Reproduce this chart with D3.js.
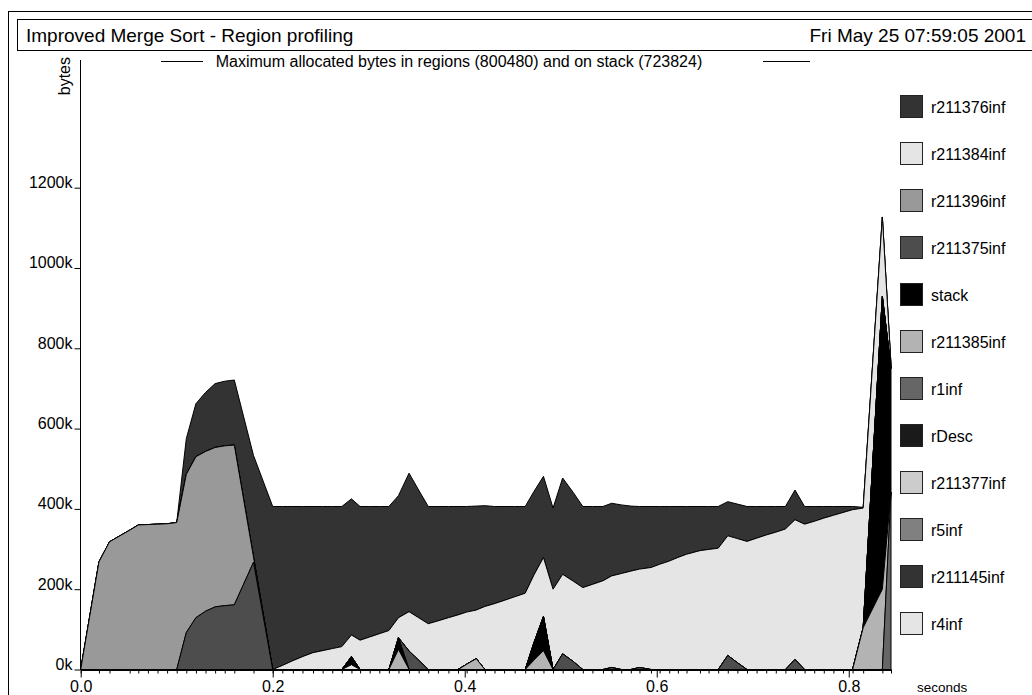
<!DOCTYPE html>
<html>
<head>
<meta charset="utf-8">
<script src="https://cdn.jsdelivr.net/npm/d3@7"></script>
<style>
  html, body { margin: 0; padding: 0; background: #fff; }
  svg { display: block; font-family: "Liberation Sans", Arial, Helvetica, sans-serif; }
</style>
</head>
<body>
<svg id="chart" width="1032" height="695"></svg>
<script>
// ---------------- DATA ----------------
const title = "Improved Merge Sort - Region profiling";
const dateText = "Fri May 25 07:59:05 2001";
const subtitle = "Maximum allocated bytes in regions (800480) and on stack (723824)";

// sample times (seconds)
const times = [
  0.000, 0.019, 0.030, 0.051, 0.060, 0.070, 0.080, 0.090, 0.100, 0.110,
  0.120, 0.130, 0.140, 0.150, 0.160, 0.180, 0.200, 0.210, 0.221, 0.231,
  0.242, 0.252, 0.262, 0.272, 0.282, 0.291, 0.301, 0.311, 0.321, 0.331,
  0.342, 0.352, 0.362, 0.372, 0.383, 0.393, 0.402, 0.412, 0.421, 0.431,
  0.441, 0.452, 0.463, 0.472, 0.482, 0.492, 0.502, 0.513, 0.523, 0.533,
  0.544, 0.553, 0.563, 0.573, 0.582, 0.594, 0.603, 0.613, 0.622, 0.631,
  0.645, 0.654, 0.664, 0.674, 0.684, 0.694, 0.704, 0.714, 0.724, 0.734,
  0.744, 0.754, 0.764, 0.774, 0.784, 0.794, 0.804, 0.815, 0.835, 0.844
];

// values in kilobytes, one per sample time
const r211376inf = [
  0, 0, 0, 0, 0, 0, 0, 0, 0, 89,
  132, 147, 159, 161, 162, 253, 406, 396, 384, 374,
  364, 359, 354, 349, 339, 333, 325, 317, 309, 304,
  345, 318, 292, 285, 277, 270, 263, 259, 251, 242,
  234, 225, 216, 208, 202, 202, 240, 221, 202, 194,
  185, 181, 171, 162, 156, 152, 144, 136, 127, 119,
  110, 107, 104, 85, 86, 87, 79, 71, 64, 56,
  74, 44, 37, 29, 22, 15, 8, 2, 0, 0
];
const r211384inf = [
  0, 0, 0, 0, 0, 0, 0, 0, 0, 0,
  0, 0, 0, 0, 0, 0, 0, 10, 22, 32,
  42, 47, 52, 57, 54, 73, 81, 89, 97, 50,
  98, 106, 114, 121, 129, 136, 130, 121, 157, 164,
  172, 181, 190, 169, 147, 200, 198, 200, 204, 212,
  221, 228, 239, 245, 245, 254, 262, 270, 279, 287,
  296, 299, 302, 298, 309, 319, 327, 335, 342, 350,
  348, 362, 369, 377, 384, 391, 398, 298, 198, 8
];
const r211396inf = [
  0, 268, 318, 347, 360, 361, 362, 363, 366, 394,
  401, 398, 397, 398, 398, 13, 0, 0, 0, 0,
  0, 0, 0, 0, 0, 0, 0, 0, 0, 0,
  0, 0, 0, 0, 0, 0, 0, 0, 0, 0,
  0, 0, 0, 0, 0, 0, 0, 0, 0, 0,
  0, 0, 0, 0, 0, 0, 0, 0, 0, 0,
  0, 0, 0, 0, 0, 0, 0, 0, 0, 0,
  0, 0, 0, 0, 0, 0, 0, 0, 0, 0
];
const r211375inf = [
  0, 0, 0, 0, 0, 0, 0, 0, 0, 92,
  129, 145, 156, 159, 161, 267, 0, 0, 0, 0,
  0, 0, 0, 0, 0, 0, 0, 0, 0, 0,
  46, 23, 0, 0, 0, 0, 0, 0, 0, 0,
  0, 0, 0, 0, 0, 0, 39, 20, 0, 0,
  0, 5, 0, 0, 5, 0, 0, 0, 0, 0,
  0, 0, 0, 35, 17, 0, 0, 0, 0, 0,
  25, 0, 0, 0, 0, 0, 0, 0, 0, 0
];
const stack = [
  0, 0, 0, 0, 0, 0, 0, 0, 0, 0,
  0, 0, 0, 0, 0, 0, 0, 0, 0, 0,
  0, 0, 0, 0, 20, 0, 0, 0, 0, 29,
  0, 0, 0, 0, 0, 0, 0, 0, 0, 0,
  0, 0, 0, 43, 85, 0, 0, 0, 0, 0,
  0, 0, 0, 0, 0, 0, 0, 0, 0, 0,
  0, 0, 0, 0, 0, 0, 0, 0, 0, 0,
  0, 0, 0, 0, 0, 0, 0, 0, 729, 308
];
const r211385inf = [
  0, 0, 0, 0, 0, 0, 0, 0, 0, 0,
  0, 0, 0, 0, 0, 0, 0, 0, 0, 0,
  0, 0, 0, 0, 0, 0, 0, 0, 0, 50,
  0, 0, 0, 0, 0, 0, 13, 27, 0, 0,
  0, 0, 0, 23, 47, 0, 0, 0, 0, 0,
  0, 0, 0, 0, 0, 0, 0, 0, 0, 0,
  0, 0, 0, 0, 0, 0, 0, 0, 0, 0,
  0, 0, 0, 0, 0, 0, 0, 104, 200, 0
];
const r1inf = [
  0, 0, 0, 0, 0, 0, 0, 0, 0, 0,
  0, 0, 0, 0, 0, 0, 0, 0, 0, 0,
  0, 0, 0, 0, 0, 0, 0, 0, 0, 0,
  0, 0, 0, 0, 0, 0, 0, 0, 0, 0,
  0, 0, 0, 0, 0, 0, 0, 0, 0, 0,
  0, 0, 0, 0, 0, 0, 0, 0, 0, 0,
  0, 0, 0, 0, 0, 0, 0, 0, 0, 0,
  0, 0, 0, 0, 0, 0, 0, 0, 0, 442
];
const rDesc = [
  0, 0, 0, 0, 0, 0, 0, 0, 0, 0,
  0, 0, 0, 0, 0, 0, 0, 0, 0, 0,
  0, 0, 0, 0, 0, 0, 0, 0, 0, 0,
  0, 0, 0, 0, 0, 0, 0, 0, 0, 0,
  0, 0, 0, 0, 0, 0, 0, 0, 0, 0,
  0, 0, 0, 0, 0, 0, 0, 0, 0, 0,
  0, 0, 0, 0, 0, 0, 0, 0, 0, 0,
  0, 0, 0, 0, 0, 0, 0, 0, 0, 0
];
const r211377inf = rDesc.slice();
const r5inf = rDesc.slice();
const r211145inf = rDesc.slice();
const r4inf = [
  0, 0, 0, 0, 0, 0, 0, 0, 0, 0,
  0, 0, 0, 0, 0, 0, 0, 0, 0, 0,
  0, 0, 0, 0, 12, 0, 0, 0, 0, 0,
  0, 0, 0, 0, 0, 0, 0, 0, 0, 0,
  0, 0, 0, 0, 0, 0, 0, 0, 0, 0,
  0, 0, 0, 0, 0, 0, 0, 0, 0, 0,
  0, 0, 0, 0, 0, 0, 0, 0, 0, 0,
  0, 0, 0, 0, 0, 0, 0, 0, 0, 0
];

// legend order (top of the stack first)
const seriesNames = ["r211376inf", "r211384inf", "r211396inf", "r211375inf", "stack",
  "r211385inf", "r1inf", "rDesc", "r211377inf", "r5inf", "r211145inf", "r4inf"];
const seriesValues = [r211376inf, r211384inf, r211396inf, r211375inf, stack,
  r211385inf, r1inf, rDesc, r211377inf, r5inf, r211145inf, r4inf];
const seriesColors = ["#333333", "#e5e5e5", "#999999", "#4d4d4d", "#000000",
  "#b3b3b3", "#666666", "#1a1a1a", "#cccccc", "#808080", "#333333", "#e5e5e5"];

const yTickValues = [0, 200, 400, 600, 800, 1000, 1200];
const yTickLabels = ["0k", "200k", "400k", "600k", "800k", "1000k", "1200k"];
const xTickValues = [0.0, 0.2, 0.4, 0.6, 0.8];
const xTickLabels = ["0.0", "0.2", "0.4", "0.6", "0.8"];

// ---------------- DRAW ----------------
const svg = d3.select("#chart");

// frames
svg.append("rect").attr("x", 8.5).attr("y", 11.5).attr("width", 1040).attr("height", 700)
  .attr("fill", "none").attr("stroke", "#000").attr("stroke-width", 1);
svg.append("rect").attr("x", 17.5).attr("y", 19.5).attr("width", 1030).attr("height", 31)
  .attr("fill", "#fff").attr("stroke", "#000").attr("stroke-width", 1);
svg.append("text").attr("x", 26).attr("y", 42).attr("font-size", 19).text(title);
svg.append("text").attr("x", 1026).attr("y", 42).attr("font-size", 19)
  .attr("text-anchor", "end").text(dateText);

// subtitle with lines
svg.append("text").attr("x", 459).attr("y", 67).attr("font-size", 16)
  .attr("text-anchor", "middle").text(subtitle);
svg.append("line").attr("x1", 161).attr("x2", 203).attr("y1", 61.5).attr("y2", 61.5)
  .attr("stroke", "#000");
svg.append("line").attr("x1", 763).attr("x2", 810).attr("y1", 61.5).attr("y2", 61.5)
  .attr("stroke", "#000");

// scales
const x = d3.scaleLinear().domain([0, times[times.length - 1]]).range([80.7, 891]);
const y = d3.scaleLinear().domain([0, 1518]).range([669.5, 60]);

// stacked data
const stackKeys = seriesNames.slice().reverse(); // bottom first
const rows = times.map((t, i) => {
  const r = { t };
  seriesNames.forEach((n, k) => { r[n] = seriesValues[k][i]; });
  return r;
});
const stacked = d3.stack().keys(stackKeys)(rows);
const colorOf = {};
seriesNames.forEach((n, k) => colorOf[n] = seriesColors[k]);

const area = d3.area()
  .x((d, i) => x(times[i]))
  .y0(d => y(d[0]))
  .y1(d => y(d[1]))
  .curve(d3.curveLinear);

svg.append("g").selectAll("path").data(stacked.slice().reverse()).join("path")
  .attr("d", area)
  .attr("fill", d => colorOf[d.key])
  .attr("stroke", "#000")
  .attr("stroke-width", 1)
  .attr("stroke-linejoin", "miter");

// y axis
const yAxis = d3.axisLeft(y).tickValues(yTickValues)
  .tickFormat((d, i) => yTickLabels[i]).tickSize(6).tickPadding(2);
const gy = svg.append("g").attr("transform", "translate(80.5,0)").call(yAxis);
gy.select(".domain").attr("d", `M0,${y.range()[1]}V${y.range()[0]}`);
gy.selectAll("text").attr("dy", "0").attr("font-size", 16)
  .attr("font-family", "Liberation Sans, Arial, sans-serif").attr("fill", "#000");

// x axis: sample marks
const xSamples = d3.axisBottom(x).tickValues(times).tickFormat("").tickSize(4).tickSizeOuter(0);
const gxs = svg.append("g").attr("transform", "translate(0,669.5)").call(xSamples);
gxs.select(".domain").remove();
// x axis: labelled ticks
const xAxis = d3.axisBottom(x).tickValues(xTickValues)
  .tickFormat((d, i) => xTickLabels[i]).tickSize(8).tickSizeOuter(0).tickPadding(3);
const gx = svg.append("g").attr("transform", "translate(0,669.5)").call(xAxis);
gx.select(".domain").attr("stroke-width", 2);
gx.selectAll("text").attr("font-size", 16)
  .attr("font-family", "Liberation Sans, Arial, sans-serif").attr("fill", "#000");

// axis titles
svg.append("text").attr("transform", "translate(70,57) rotate(-90)")
  .attr("text-anchor", "end").attr("font-size", 16).text("bytes");
svg.append("text").attr("x", 917).attr("y", 692).attr("font-size", 13.5).text("seconds");

// legend
const leg = svg.append("g");
seriesNames.forEach((n, k) => {
  const yy = 95 + k * 47;
  leg.append("rect").attr("x", 900.5).attr("y", yy + 0.5).attr("width", 22).attr("height", 22)
    .attr("fill", seriesColors[k]).attr("stroke", "#222").attr("stroke-width", 1);
  leg.append("text").attr("x", 931).attr("y", yy + 18).attr("font-size", 16).text(n);
});
</script>
</body>
</html>
